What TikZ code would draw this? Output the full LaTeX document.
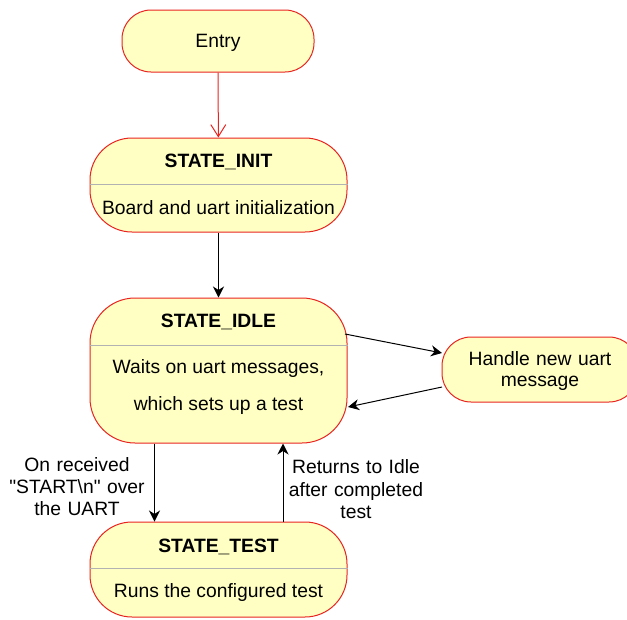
\documentclass[tikz,border=0pt]{standalone}
\usepackage{fontspec}
\setmainfont{Liberation Sans}
\usepackage{tikz}
\usetikzlibrary{arrows.meta}
\usetikzlibrary{positioning}

\definecolor{statefill}{RGB}{255,255,196}
\definecolor{stateline}{RGB}{232,36,32}

\tikzset{
	statebox/.style={draw=stateline, fill=statefill, line width=1pt, minimum width=257pt, rounded corners=42pt},
	smallbox/.style={draw=stateline, fill=statefill, line width=1pt, rounded corners=29pt},
	statename/.style={font=\bfseries\fontsize{19.3}{22}\selectfont},
	statetext/.style={font=\fontsize{19.3}{22}\selectfont, align=center},
	divider/.style={draw=black!30, line width=1.8pt},
	flow/.style={-{Stealth[length=11pt, width=11pt, inset=3.5pt]}, line width=1pt},
	entryflow/.style={-{Straight Barb[length=12pt, width=15pt, line width=1pt]}, draw=stateline, line width=1pt}
}

\begin{document}
\begin{tikzpicture}[x=1pt, y=-1pt]
	\useasboundingbox (0,0) rectangle (627,619);

	% entry
	\node[smallbox, minimum width=192pt, minimum height=62pt] (entry) at (218,41) {};
	\node[statetext] (entry text) at (218,43) {Entry};

	% init state
	\node[statebox, minimum height=94pt] (init) at (218.5,185) {};
	\node[statename] (init title) at (218.5,161.5) {STATE\_INIT};
	\draw[divider] ([yshift=-47pt]init.north west) -- ([yshift=-47pt]init.north east);
	\node[statetext] (init body) at (218.5,208) {Board and uart initialization};

	% idle state
	\node[statebox, rounded corners=45pt, minimum height=145pt] (idle) at (218.5,370.5) {};
	\node[statename] (idle title) at (218.5,321.5) {STATE\_IDLE};
	\draw[divider] ([yshift=-48pt]idle.north west) -- ([yshift=-48pt]idle.north east);
	\node[statetext] (idle body1) at (218.5,369) {Waits on uart messages,};
	\node[statetext] (idle body2) at (218.5,406) {which sets up a test};

	% handler
	\node[smallbox, minimum width=196pt, minimum height=65pt] (handle) at (540,369.5) {};
	\node[statetext, text width=190pt] (handle text) at (540,371) {Handle new uart\\[-1pt]message};

	% test state
	\node[statebox, minimum height=95pt] (test) at (218.5,569.5) {};
	\node[statename] (test title) at (218.5,546.5) {STATE\_TEST};
	\draw[divider] ([yshift=-47pt]test.north west) -- ([yshift=-47pt]test.north east);
	\node[statetext] (test body) at (218.5,593) {Runs the configured test};

	% transitions
	\coordinate (idle out) at (345,334);
	\coordinate (idle in) at (348,407);
	\coordinate (handle in) at (442,353);
	\coordinate (handle out) at (442,387);
	\draw[entryflow] (entry) -- (init);
	\draw[flow] (init) -- (idle);
	\draw[flow] (idle out) -- (handle in);
	\draw[flow] (handle out) -- (idle in);
	\draw[flow] (idle.south -| 154.5,0) -- (test.north -| 154.5,0);
	\draw[flow] (test.north -| 283,0) -- (idle.south -| 283,0);

	% labels
	\node[statetext, text width=150pt] (start label) at (77,487) {On received\\[0pt]\textquotedbl START\textbackslash n\textquotedbl{} over\\[0pt]the UART};
	\node[statetext, text width=150pt] (return label) at (356,489.5) {Returns to Idle\\[1pt]after completed\\[0pt]test};
\end{tikzpicture}
\end{document}
